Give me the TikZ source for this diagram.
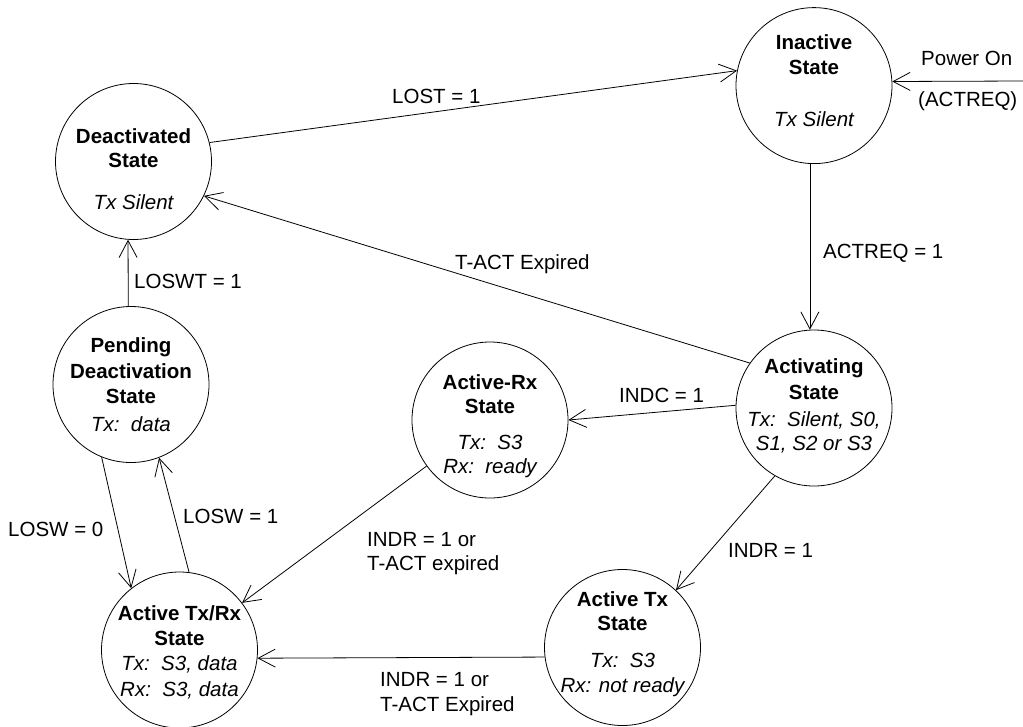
\documentclass[tikz,border=0pt]{standalone}
\usepackage{fontspec}
\setmainfont{Liberation Sans}
\usetikzlibrary{arrows.meta}
\begin{document}
\begin{tikzpicture}[x=1pt,y=-1pt,
  state/.style={draw, circle, minimum size=156pt, inner sep=0pt, line width=0.8pt},
  txt/.style={inner sep=0pt, font=\fontsize{20.5}{24}\selectfont, anchor=base},
  lbl/.style={inner sep=0pt, font=\fontsize{20.5}{24}\selectfont, anchor=base west},
  conn/.style={line width=0.8pt, -{Straight Barb[length=17pt,width=18pt,line width=0.8pt]}}]
\useasboundingbox (0,0) rectangle (1023,726);
% states
\node[state] (deact) at (133.5,161.5) {};
\node[state] (inact) at (814,85.6) {};
\node[state] (pend) at (131,384.5) {};
\node[state] (actrx) at (490,420) {};
\node[state] (activ) at (814,408) {};
\node[state] (acttx) at (622.5,647.5) {};
\node[state] (txrx) at (179.5,650) {};
% state texts
\node[txt] (deact1) at (133.5,143) {\bfseries Deactivated};
\node[txt] (deact2) at (133.5,167) {\bfseries State};
\node[txt] (deact3) at (133.5,209) {\itshape Tx Silent};
\node[txt] (inact1) at (814,49) {\bfseries Inactive};
\node[txt] (inact2) at (814,74) {\bfseries State};
\node[txt] (inact3) at (814,126) {\itshape Tx Silent};
\node[txt] (pend1) at (131,352) {\bfseries Pending};
\node[txt] (pend2) at (131,378) {\bfseries Deactivation};
\node[txt] (pend3) at (131,403) {\bfseries State};
\node[txt] (pend4) at (131,431) {\itshape Tx:\ \ data};
\node[txt] (actrx1) at (490,389) {\bfseries Active-Rx};
\node[txt] (actrx2) at (490,413) {\bfseries State};
\node[txt] (actrx3) at (490,449) {\itshape Tx:\ \ S3};
\node[txt] (actrx4) at (490,473) {\itshape Rx:\ \ ready};
\node[txt] (activ1) at (814,373) {\bfseries Activating};
\node[txt] (activ2) at (814,399) {\bfseries State};
\node[txt] (activ3) at (814,426) {\itshape Tx:\ \ Silent, S0,};
\node[txt] (activ4) at (814,450) {\itshape S1, S2 or S3};
\node[txt] (acttx1) at (622.5,606) {\bfseries Active Tx};
\node[txt] (acttx2) at (622.5,630) {\bfseries State};
\node[txt] (acttx3) at (622.5,667) {\itshape Tx:\ \ S3};
\node[txt] (acttx4) at (622.5,692) {\itshape Rx: not ready};
\node[txt] (txrx1) at (179.5,620) {\bfseries Active Tx/Rx};
\node[txt] (txrx2) at (179.5,645) {\bfseries State};
\node[txt] (txrx3) at (179.5,670) {\itshape Tx:\ \ S3, data};
\node[txt] (txrx4) at (179.5,696) {\itshape Rx:\ \ S3, data};
% connectors
\coordinate (pwr) at (1023,81);
\draw[conn] (deact.14) -- (inact.169);
\draw[conn] (activ.145) -- (deact.-26.7);
\draw[conn] (inact.267) -- (activ.93);
\draw[conn] (pwr) -- (inact.3.3);
\draw[conn] (pend.92.4) -- (deact.266);
\draw[conn] (pend.248.5) -- (txrx.128.8);
\draw[conn] (txrx.83.6) -- (pend.291.4);
\draw[conn] (activ.178.5) -- (actrx.0.7);
\draw[conn] (actrx.216.7) -- (txrx.37.6);
\draw[conn] (activ.240.3) -- (acttx.47.9);
\draw[conn] (acttx.187.6) -- (txrx.354.3);
% labels
\node[lbl] (l1) at (392,103) {LOST = 1};
\node[lbl] (l2) at (455,269) {T-ACT Expired};
\node[lbl] (l3) at (823,258) {ACTREQ = 1};
\node[lbl] (l4) at (921,65) {Power On};
\node[lbl] (l5) at (918,106) {(ACTREQ)};
\node[lbl] (l6) at (134,288) {LOSWT = 1};
\node[lbl] (l7) at (8,536) {LOSW = 0};
\node[lbl] (l8) at (183,523) {LOSW = 1};
\node[lbl] (l9) at (619,402) {INDC = 1};
\node[lbl] (l10) at (367,546) {INDR = 1 or};
\node[lbl] (l11) at (367,570) {T-ACT expired};
\node[lbl] (l12) at (728,557) {INDR = 1};
\node[lbl] (l13) at (380,686) {INDR = 1 or};
\node[lbl] (l14) at (380,711) {T-ACT Expired};
\end{tikzpicture}
\end{document}
